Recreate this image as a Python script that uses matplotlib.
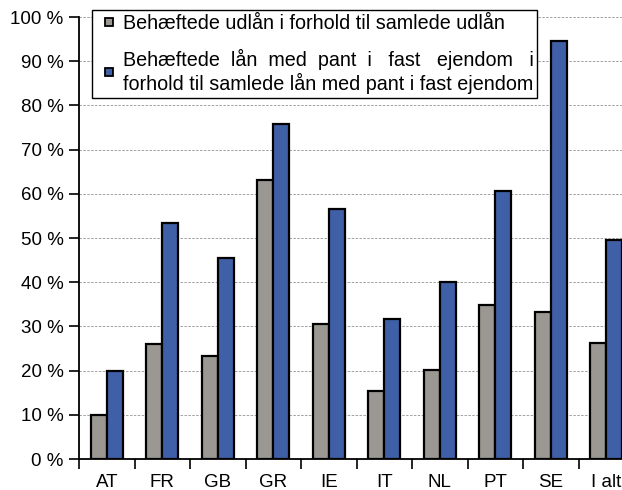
import numpy as np
import matplotlib
matplotlib.use("Agg")
import matplotlib.pyplot as plt
from matplotlib.lines import Line2D

# Data
lande = ["AT", "FR", "GB", "GR", "IE", "IT", "NL", "PT", "SE", "I alt"]
udlaan = [10.0, 26.0, 23.3, 63.1, 30.5, 15.4, 20.1, 34.8, 33.3, 26.2]
pant = [20.0, 53.4, 45.5, 75.8, 56.5, 31.6, 40.0, 60.6, 94.6, 49.5]
yticks = [0, 10, 20, 30, 40, 50, 60, 70, 80, 90, 100]

label1 = "Behæftede udlån i forhold til samlede udlån"
label2 = "Behæftede  lån  med  pant  i   fast   ejendom   i\nforhold til samlede lån med pant i fast ejendom"

plt.rcParams['font.family'] = ['Liberation Sans', 'DejaVu Sans']

fig = plt.figure(figsize=(6.22, 4.90), dpi=100)
ax = fig.add_axes([79 / 622, 31 / 490, 555 / 622, 442 / 490])

x = np.arange(len(lande))
w = 0.29
graa = "#9b9893"
blaa = "#3f5fa6"
ax.bar(x - w / 2, udlaan, w, color=graa, edgecolor="black", linewidth=1.6, zorder=3)
ax.bar(x + w / 2, pant, w, color=blaa, edgecolor="black", linewidth=1.6, zorder=3)

ax.set_xlim(-0.5, len(lande) - 0.5)
ax.set_ylim(0, 100)
ax.set_yticks(yticks)
ax.set_yticklabels([f"{v} %" for v in yticks], fontsize=13.5)
ax.yaxis.grid(True, linestyle=(0, (2.5, 1.5)), color="#a0a0a0", linewidth=0.7, zorder=0)

# ticks between categories, labels in the middle
ax.set_xticks(np.arange(len(lande) + 1) - 0.5)
ax.set_xticklabels([])
ax.set_xticks(x, minor=True)
ax.set_xticklabels(lande, minor=True, fontsize=13.5)
ax.tick_params(axis="x", which="minor", length=0, pad=11)
ax.tick_params(axis="x", which="major", length=7, width=1.2, direction="out")
ax.tick_params(axis="y", length=7, width=1.2, direction="out", pad=4)

for s in ["top", "right"]:
    ax.spines[s].set_visible(False)
for s in ["left", "bottom"]:
    ax.spines[s].set_linewidth(1.3)

handles = [Line2D([], [], linestyle="none", marker="s", markersize=6,
                  markerfacecolor=graa, markeredgecolor="black", markeredgewidth=1.3),
           Line2D([], [], linestyle="none", marker="s", markersize=6,
                  markerfacecolor=blaa, markeredgecolor="black", markeredgewidth=1.3)]
leg = fig.legend(handles, [label1, label2], loc="upper left",
                 bbox_to_anchor=(92 / 622, 1 - 10 / 490), borderaxespad=0,
                 fontsize=14.2,
                 handlelength=1.35, handletextpad=0.0,
                 labelspacing=0.8, borderpad=0.2, fancybox=False,
                 framealpha=1, edgecolor="black")
leg.get_frame().set_linewidth(1.0)

fig.savefig("out.png", dpi=100)
